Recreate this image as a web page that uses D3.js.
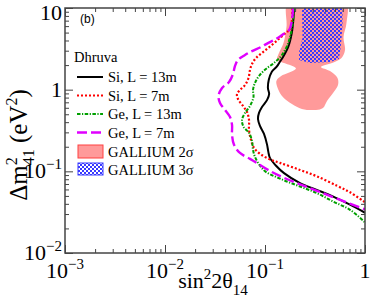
<!DOCTYPE html>
<html>
<head>
<meta charset="utf-8">
<script src="https://cdn.jsdelivr.net/npm/d3@7"></script>
<style>
  body { margin: 0; background: #fff; }
  text { font-family: "Liberation Serif", "Times New Roman", serif; fill: #000; }
</style>
</head>
<body>
<svg id="chart" width="374" height="299"></svg>
<script>
// exclusion curves, [sin^2 2theta14, dm2_41 (eV^2)]
const siL13 = [[0.195,10],[0.192,7.1],[0.185,4.9],[0.171,3.36],[0.152,2.53],[0.141,2.2],[0.131,1.91],[0.117,1.66],[0.109,1.31],[0.107,1.04],[0.110,0.886],[0.105,0.75],[0.0933,0.614],[0.0871,0.519],[0.0851,0.438],[0.0891,0.36],[0.0977,0.287],[0.105,0.211],[0.108,0.173],[0.112,0.146],[0.129,0.117],[0.155,0.095],[0.224,0.0718],[0.329,0.0594],[0.482,0.049],[0.708,0.039],[1,0.0311]];
const siL7 = [[0.188,10],[0.186,7.11],[0.178,5.37],[0.165,5.08],[0.141,4.29],[0.117,3.52],[0.0955,2.89],[0.0813,2.44],[0.0741,2.06],[0.0708,1.74],[0.0684,1.39],[0.0631,1.14],[0.0562,0.99],[0.0525,0.886],[0.0537,0.769],[0.0603,0.631],[0.0661,0.533],[0.0692,0.427],[0.0692,0.322],[0.0724,0.243],[0.0776,0.194],[0.0891,0.164],[0.112,0.14],[0.141,0.127],[0.224,0.104],[0.331,0.0869],[0.525,0.0665],[0.708,0.0554],[1,0.0418]];
const geL13 = [[0.195,10],[0.191,7.11],[0.182,4.93],[0.166,3.42],[0.145,2.58],[0.123,2.12],[0.102,1.79],[0.0871,1.47],[0.0794,1.21],[0.0759,0.99],[0.0767,0.814],[0.0708,0.632],[0.0631,0.519],[0.0589,0.427],[0.061,0.35],[0.0692,0.296],[0.0741,0.236],[0.0759,0.183],[0.0794,0.15],[0.0891,0.117],[0.102,0.0986],[0.151,0.0787],[0.224,0.0652],[0.331,0.0541],[0.479,0.0427],[0.708,0.0338],[1,0.0237]];
const geL7 = [[0.1905,10],[0.186,7.11],[0.174,5.37],[0.148,4.67],[0.129,4.17],[0.107,3.72],[0.0912,3.33],[0.0741,2.97],[0.0631,2.66],[0.0537,2.31],[0.0501,1.95],[0.0479,1.56],[0.0437,1.24],[0.0372,1.05],[0.0343,0.838],[0.0355,0.687],[0.0398,0.565],[0.0447,0.463],[0.0468,0.37],[0.0468,0.279],[0.049,0.211],[0.0562,0.168],[0.0708,0.142],[0.0832,0.126],[0.112,0.101],[0.151,0.0845],[0.224,0.0694],[0.331,0.0578],[0.525,0.0462],[1,0.0343]];

// gallium allowed regions
const gallium2 = [[0.172,12],[0.638,12],[0.653,6.54],[0.61,4.41],[0.631,3.06],[0.582,2.44],[0.468,2.12],[0.363,1.9],[0.447,1.69],[0.531,1.39],[0.537,1.14],[0.479,0.911],[0.417,0.728],[0.38,0.597],[0.324,0.565],[0.234,0.581],[0.186,0.668],[0.151,0.814],[0.135,1.02],[0.13,1.28],[0.145,1.47],[0.204,1.82],[0.155,2.12],[0.132,2.31],[0.138,2.81],[0.153,3.72],[0.164,5.84]];
const gallium3 = [[0.234,12],[0.237,4.29],[0.219,2.89],[0.219,2.31],[0.282,2.12],[0.447,2.18],[0.55,2.37],[0.575,3.52],[0.596,6.18],[0.596,12]];

const xMajor = [1e-3, 1e-2, 1e-1, 1];
const xLabels = [["10","\u22123"],["10","\u22122"],["10","\u22121"],["1",""]];
const yMajor = [1e-2, 1e-1, 1, 10];
const yLabels = [["10","\u22122"],["10","\u22121"],["1",""],["10",""]];

const legendItems = [
  {name: "Si, L = 13m", color: "#000", dash: null, width: 2},
  {name: "Si, L = 7m", color: "#ff0000", dash: "2,2", width: 2.2},
  {name: "Ge, L = 13m", color: "#00a000", dash: "3.5,1.5,1.2,1.5", width: 2},
  {name: "Ge, L = 7m", color: "#e000ff", dash: "10,4", width: 2.4}
];
const curves = [siL13, siL7, geL13, geL7];

const svg = d3.select("#chart");
const mLeft = 65, mRight = 365, mTop = 8, mBottom = 253;

const x = d3.scaleLog().domain([1e-3, 1]).range([mLeft, mRight]);
const y = d3.scaleLog().domain([1e-2, 10]).range([mBottom, mTop]);

function minors(lo, hi) {
  let out = [];
  for (let d = lo; d < hi * 0.99; d *= 10)
    for (let k = 2; k <= 9; k++) out.push(d * k);
  return out;
}

// defs: clip + checker pattern
const defs = svg.append("defs");
defs.append("clipPath").attr("id", "plotclip")
  .append("rect").attr("x", mLeft).attr("y", mTop)
  .attr("width", mRight - mLeft).attr("height", mBottom - mTop);
const pat = defs.append("pattern").attr("id", "checker")
  .attr("patternUnits", "userSpaceOnUse")
  .attr("width", 4).attr("height", 4);
pat.append("rect").attr("x", 0).attr("y", 0).attr("width", 2).attr("height", 2).attr("fill", "#3a3aff");
pat.append("rect").attr("x", 2).attr("y", 2).attr("width", 2).attr("height", 2).attr("fill", "#3a3aff");

const plot = svg.append("g").attr("clip-path", "url(#plotclip)");

const area = d3.line().x(d => x(d[0])).y(d => y(d[1])).curve(d3.curveCatmullRomClosed.alpha(0.5));
plot.append("path").attr("d", area(gallium2)).attr("fill", "#ff9a9a");
plot.append("path").attr("d", d3.line().x(d => x(d[0])).y(d => y(d[1])).curve(d3.curveLinearClosed)(gallium3))
  .attr("fill", "url(#checker)");

const line = d3.line().x(d => x(d[0])).y(d => y(d[1])).curve(d3.curveCatmullRom.alpha(0.5));
curves.forEach((c, i) => {
  const it = legendItems[i];
  plot.append("path").attr("d", line(c))
    .attr("fill", "none")
    .attr("stroke", it.color)
    .attr("stroke-width", it.width)
    .attr("stroke-dasharray", it.dash);
});

// ticks, all inward
function drawAxis(axis, tr, vals, size) {
  const g = svg.append("g").attr("transform", tr)
    .call(axis.tickValues(vals).tickSize(-size).tickSizeOuter(0).tickFormat(""));
  g.select(".domain").remove();
  g.selectAll("line").attr("stroke", "#444").attr("stroke-width", 1);
}
const xMin = minors(1e-3, 1), yMin = minors(1e-2, 10);
drawAxis(d3.axisBottom(x), `translate(0,${mBottom})`, xMajor, 8);
drawAxis(d3.axisBottom(x), `translate(0,${mBottom})`, xMin, 4);
drawAxis(d3.axisTop(x), `translate(0,${mTop})`, xMajor, 8);
drawAxis(d3.axisTop(x), `translate(0,${mTop})`, xMin, 4);
drawAxis(d3.axisLeft(y), `translate(${mLeft},0)`, yMajor, 8);
drawAxis(d3.axisLeft(y), `translate(${mLeft},0)`, yMin, 4);
drawAxis(d3.axisRight(y), `translate(${mRight},0)`, yMajor, 8);
drawAxis(d3.axisRight(y), `translate(${mRight},0)`, yMin, 4);

svg.append("rect").attr("x", mLeft).attr("y", mTop)
  .attr("width", mRight - mLeft).attr("height", mBottom - mTop)
  .attr("fill", "none").attr("stroke", "#444").attr("stroke-width", 1.5);

// tick labels
function powLabel(g, base, exp, size) {
  const t = g.append("text").style("font-size", size + "px").text(base);
  if (exp) t.append("tspan").attr("dy", -9).style("font-size", "15px").text(exp);
  return t;
}
xMajor.forEach((v, i) => {
  powLabel(svg, xLabels[i][0], xLabels[i][1], 22)
    .attr("x", x(v)).attr("y", 278).attr("text-anchor", "middle");
});
yMajor.forEach((v, i) => {
  powLabel(svg, yLabels[i][0], yLabels[i][1], 22)
    .attr("x", 62).attr("y", Math.max(y(v) + 7, 20)).attr("text-anchor", "end");
});

// axis titles
const xt = svg.append("text").attr("x", 213).attr("y", 288)
  .attr("text-anchor", "middle").style("font-size", "22px").text("sin");
xt.append("tspan").attr("dy", -9).style("font-size", "15px").text("2");
xt.append("tspan").attr("dy", 9).text("2\u03b8");
xt.append("tspan").attr("dy", 7).style("font-size", "15px").text("14");

const yt = svg.append("text").attr("transform", "translate(27,145) rotate(-90)")
  .attr("text-anchor", "middle").style("font-size", "25px").text("\u0394m");
yt.append("tspan").attr("dy", -10).style("font-size", "16px").text("2");
yt.append("tspan").attr("dx", -8).attr("dy", 17).style("font-size", "16px").text("41");
yt.append("tspan").attr("dy", -7).text(" (eV");
yt.append("tspan").attr("dy", -10).style("font-size", "16px").text("2");
yt.append("tspan").attr("dy", 10).text(")");

// panel tag
svg.append("text").attr("x", 80).attr("y", 23)
  .style("font-family", "Liberation Sans, Arial, sans-serif").style("font-size", "12px").text("(b)");

// legend
const lg = svg.append("g");
lg.append("text").attr("x", 74).attr("y", 62).style("font-size", "14.5px").text("Dhruva");
legendItems.forEach((it, i) => {
  const yy = 77 + i * 18.5;
  lg.append("line").attr("x1", 77).attr("x2", 103).attr("y1", yy).attr("y2", yy)
    .attr("stroke", it.color).attr("stroke-width", it.width).attr("stroke-dasharray", it.dash);
  lg.append("text").attr("x", 108).attr("y", yy + 5).style("font-size", "14.5px").text(it.name);
});
lg.append("rect").attr("x", 78).attr("y", 145).attr("width", 25).attr("height", 13)
  .attr("fill", "#ff9a9a").attr("stroke", "#ff4040").attr("stroke-width", 1);
lg.append("text").attr("x", 108).attr("y", 156.5).style("font-size", "14.5px").text("GALLIUM 2\u03c3");
lg.append("rect").attr("x", 78).attr("y", 163).attr("width", 25).attr("height", 12)
  .attr("fill", "url(#checker)").attr("stroke", "#3a3aff").attr("stroke-width", 1);
lg.append("text").attr("x", 108).attr("y", 174.5).style("font-size", "14.5px").text("GALLIUM 3\u03c3");
</script>
</body>
</html>
